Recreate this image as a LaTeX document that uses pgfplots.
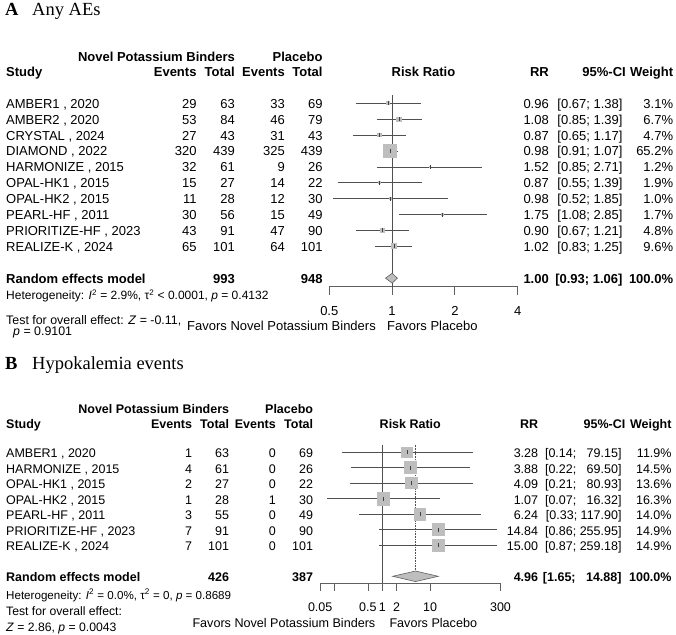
\documentclass[border=0pt]{standalone}
\usepackage{fontspec}
\setmainfont{Liberation Sans}
\newfontfamily\serifB{Liberation Serif}
\usepackage{pgfplots}
\pgfplotsset{compat=1.18}
\definecolor{boxg}{HTML}{BEBEBE}
\definecolor{lineg}{HTML}{505050}
\definecolor{axg}{HTML}{606060}
\newcommand{\fA}{\fontsize{13}{15}\selectfont}
\newcommand{\fB}{\fontsize{12.5}{14}\selectfont}
\newcommand{\trow}[9]{%
 \node[anchor=base west,inner sep=0pt,font=\rf] at (6pt,-#1pt) {#2};
 \node[anchor=base east,inner sep=0pt,font=\rf] at (\cE pt,-#1pt) {#3};
 \node[anchor=base east,inner sep=0pt,font=\rf] at (\cT pt,-#1pt) {#4};
 \node[anchor=base east,inner sep=0pt,font=\rf] at (\cPE pt,-#1pt) {#5};
 \node[anchor=base east,inner sep=0pt,font=\rf] at (\cPT pt,-#1pt) {#6};
 \node[anchor=base east,inner sep=0pt,font=\rf] at (\cRR pt,-#1pt) {#7};
 \node[anchor=base east,inner sep=0pt,font=\rf] at (\cCI pt,-#1pt) {#8};
 \node[anchor=base east,inner sep=0pt,font=\rf] at (\cW pt,-#1pt) {#9};
}
\newcommand{\hdr}[2]{%
 \node[anchor=base east,inner sep=0pt,font=\rf\bfseries] at (\cT pt,-#1pt) {Novel Potassium Binders};
 \node[anchor=base east,inner sep=0pt,font=\rf\bfseries] at (\cPT pt,-#1pt) {Placebo};
 \node[anchor=base west,inner sep=0pt,font=\rf\bfseries] at (6pt,-#2pt) {Study};
 \node[anchor=base east,inner sep=0pt,font=\rf\bfseries] at (\cE pt,-#2pt) {Events};
 \node[anchor=base east,inner sep=0pt,font=\rf\bfseries] at (\cT pt,-#2pt) {Total};
 \node[anchor=base east,inner sep=0pt,font=\rf\bfseries] at (\cPE pt,-#2pt) {Events};
 \node[anchor=base east,inner sep=0pt,font=\rf\bfseries] at (\cPT pt,-#2pt) {Total};
 \node[anchor=base,inner sep=0pt,font=\rf\bfseries] at (\cRRT pt,-#2pt) {Risk Ratio};
 \node[anchor=base east,inner sep=0pt,font=\rf\bfseries] at (\cRR pt,-#2pt) {RR};
 \node[anchor=base east,inner sep=0pt,font=\rf\bfseries] at (\cCIH pt,-#2pt) {95\%-CI};
 \node[anchor=base east,inner sep=0pt,font=\rf\bfseries] at (\cW pt,-#2pt) {Weight};
}
\begin{document}
\begin{tikzpicture}
\path[use as bounding box] (0pt,0pt) rectangle (676pt,-634pt);

% ================= Panel A =================
\node[anchor=base west,inner sep=0pt,font=\fontsize{18.5}{20}\selectfont\serifB\bfseries] at (5pt,-16pt) {A};
\node[anchor=base west,inner sep=0pt,font=\fontsize{18.5}{20}\selectfont\serifB] at (32pt,-16pt) {Any AEs};
\let\rf\fA
\def\cE{196.7}\def\cT{235}\def\cPE{285}\def\cPT{322.7}\def\cRR{549}\def\cCI{622.7}\def\cCIH{626}\def\cW{673.3}\def\cRRT{423.5}
\hdr{61.7}{76.7}
\trow{108.2}{AMBER1 , 2020}{29}{63}{33}{69}{0.96}{[0.67; 1.38]}{3.1\%}
\trow{124.1}{AMBER2 , 2020}{53}{84}{46}{79}{1.08}{[0.85; 1.39]}{6.7\%}
\trow{140.0}{CRYSTAL , 2024}{27}{43}{31}{43}{0.87}{[0.65; 1.17]}{4.7\%}
\trow{155.9}{DIAMOND , 2022}{320}{439}{325}{439}{0.98}{[0.91; 1.07]}{65.2\%}
\trow{171.8}{HARMONIZE , 2015}{32}{61}{9}{26}{1.52}{[0.85; 2.71]}{1.2\%}
\trow{187.7}{OPAL-HK1 , 2015}{15}{27}{14}{22}{0.87}{[0.55; 1.39]}{1.9\%}
\trow{203.6}{OPAL-HK2 , 2015}{11}{28}{12}{30}{0.98}{[0.52; 1.85]}{1.0\%}
\trow{219.5}{PEARL-HF , 2011}{30}{56}{15}{49}{1.75}{[1.08; 2.85]}{1.7\%}
\trow{235.4}{PRIORITIZE-HF , 2023}{43}{91}{47}{90}{0.90}{[0.67; 1.21]}{4.8\%}
\trow{251.3}{REALIZE-K , 2024}{65}{101}{64}{101}{1.02}{[0.83; 1.25]}{9.6\%}
\trow{283.1}{\bfseries Random effects model}{}{\bfseries 993}{}{\bfseries 948}{\bfseries 1.00}{\bfseries [0.93; 1.06]}{\bfseries 100.0\%}
\node[anchor=base west,inner sep=0pt,font=\fontsize{12}{14}\selectfont] at (6pt,-299.6pt) {Heterogeneity: \textit{I}\textsuperscript{2} = 2.9\%, τ\textsuperscript{2} < 0.0001, \textit{p} = 0.4132};
\node[anchor=base west,inner sep=0pt,font=\fontsize{12.4}{14}\selectfont] at (6pt,-324.1pt) {Test for overall effect: \textit{Z} = -0.11,};
\node[anchor=base west,inner sep=0pt,font=\fontsize{12.4}{14}\selectfont] at (13pt,-335.7pt) {\textit{p} = 0.9101};
\node[anchor=base east,inner sep=0pt,font=\fA] at (376pt,-330pt) {Favors Novel Potassium Binders};
\node[anchor=base west,inner sep=0pt,font=\fA] at (387pt,-330pt) {Favors Placebo};

\begin{axis}[at={(329.3pt,-286.7pt)}, anchor=south west,
  scale only axis, width=188.4pt, height=191.7pt,
  xmode=log, log basis x=2, clip=false,
  xmin=0.5, xmax=4, ymin=-12.535, ymax=-0.478,
  axis x line*=bottom, axis y line=none,
  x axis line style={axg,line width=0.8pt,-},
  tick align=outside, major tick length=8pt,
  tick style={axg,line width=0.8pt},
  xtick={0.5,1,2,4}, xticklabels={0.5,1,2,4},
  xticklabel style={font=\fA,anchor=base,yshift=-21pt}]
\addplot[lineg,line width=0.8pt] coordinates {(1,-0.478) (1,-12.535)};
\addplot[scatter, only marks, mark=square*,
  mark options={draw=boxg,fill=boxg,line width=0pt},
  scatter/use mapped color={draw=boxg,fill=boxg},
  visualization depends on={\thisrow{s}\as\msz},
  scatter/@pre marker code/.append style={/tikz/mark size=\msz}]
  table[x=x,y=y] {
x y s
0.96 -1 1.42
1.08 -2 2.08
0.87 -3 1.75
0.98 -4 6.5
1.52 -5 0.88
0.87 -6 1.11
0.98 -7 0.80
1.75 -8 1.05
0.90 -9 1.76
1.02 -10 2.49
};
\addplot[lineg,line width=0.8pt] coordinates {(0.67,-1) (1.38,-1)};
\addplot[lineg,line width=0.8pt] coordinates {(0.85,-2) (1.39,-2)};
\addplot[lineg,line width=0.8pt] coordinates {(0.65,-3) (1.17,-3)};
\addplot[lineg,line width=0.8pt] coordinates {(0.91,-4) (1.07,-4)};
\addplot[lineg,line width=0.8pt] coordinates {(0.85,-5) (2.71,-5)};
\addplot[lineg,line width=0.8pt] coordinates {(0.55,-6) (1.39,-6)};
\addplot[lineg,line width=0.8pt] coordinates {(0.52,-7) (1.85,-7)};
\addplot[lineg,line width=0.8pt] coordinates {(1.08,-8) (2.85,-8)};
\addplot[lineg,line width=0.8pt] coordinates {(0.67,-9) (1.21,-9)};
\addplot[lineg,line width=0.8pt] coordinates {(0.83,-10) (1.25,-10)};
\addplot[only marks, mark=|, mark size=2pt, black!75, line width=0.8pt] table[x=x,y=y] {
x y
0.96 -1
1.08 -2
0.87 -3
0.98 -4
1.52 -5
0.87 -6
0.98 -7
1.75 -8
0.90 -9
1.02 -10
};
\addplot[fill=boxg, draw=axg, line width=0.6pt] coordinates {(0.93,-12) (1.00,-11.69) (1.06,-12) (1.00,-12.31)} -- cycle;
\end{axis}

% ================= Panel B =================
\node[anchor=base west,inner sep=0pt,font=\fontsize{18.5}{20}\selectfont\serifB\bfseries] at (5pt,-369pt) {B};
\node[anchor=base west,inner sep=0pt,font=\fontsize{18.5}{20}\selectfont\serifB] at (32pt,-369pt) {Hypokalemia events};
\let\rf\fB
\def\cE{192.3}\def\cT{229.3}\def\cPE{276}\def\cPT{313.3}\def\cRR{538.3}\def\cCI{621.7}\def\cCIH{625.5}\def\cW{671.7}\def\cRRT{410.3}
\hdr{413}{428}
\trow{457.5}{AMBER1 , 2020}{1}{63}{0}{69}{3.28}{[0.14; \phantom{0}79.15]}{11.9\%}
\trow{473.0}{HARMONIZE , 2015}{4}{61}{0}{26}{3.88}{[0.22; \phantom{0}69.50]}{14.5\%}
\trow{488.5}{OPAL-HK1 , 2015}{2}{27}{0}{22}{4.09}{[0.21; \phantom{0}80.93]}{13.6\%}
\trow{504.0}{OPAL-HK2 , 2015}{1}{28}{1}{30}{1.07}{[0.07; \phantom{0}16.32]}{16.3\%}
\trow{519.5}{PEARL-HF , 2011}{3}{55}{0}{49}{6.24}{[0.33; 117.90]}{14.0\%}
\trow{535.0}{PRIORITIZE-HF , 2023}{7}{91}{0}{90}{14.84}{[0.86; 255.95]}{14.9\%}
\trow{550.5}{REALIZE-K , 2024}{7}{101}{0}{101}{15.00}{[0.87; 259.18]}{14.9\%}
\trow{581.5}{\bfseries Random effects model}{}{\bfseries 426}{}{\bfseries 387}{\bfseries 4.96}{\bfseries [1.65; \phantom{0}14.88]}{\bfseries 100.0\%}
\node[anchor=base west,inner sep=0pt,font=\fontsize{11.6}{13}\selectfont] at (6pt,-599pt) {Heterogeneity: \textit{I}\textsuperscript{2} = 0.0\%, τ\textsuperscript{2} = 0, \textit{p} = 0.8689};
\node[anchor=base west,inner sep=0pt,font=\fontsize{12.2}{14}\selectfont] at (6pt,-615.5pt) {Test for overall effect:};
\node[anchor=base west,inner sep=0pt,font=\fontsize{12.2}{14}\selectfont] at (6pt,-631.3pt) {\textit{Z} = 2.86, \textit{p} = 0.0043};
\node[anchor=base east,inner sep=0pt,font=\fontsize{12.6}{14}\selectfont] at (375.5pt,-627.8pt) {Favors Novel Potassium Binders};
\node[anchor=base west,inner sep=0pt,font=\fontsize{12.6}{14}\selectfont] at (389.3pt,-627.8pt) {Favors Placebo};

\begin{axis}[at={(320.2pt,-583.3pt)}, anchor=south west,
  scale only axis, width=180.3pt, height=138.8pt,
  xmode=log, log basis x=10, clip=false,
  xmin=0.05, xmax=300, ymin=-9.452, ymax=-0.497,
  axis x line*=bottom, axis y line=none,
  x axis line style={axg,line width=0.8pt,-},
  tick align=outside, major tick length=7.5pt,
  tick style={axg,line width=0.8pt},
  xtick={0.05,0.1,0.5,1,2,10,300}, xticklabels={0.05,,0.5,1,2,10,300},
  xticklabel style={font=\fB,anchor=base,yshift=-21pt}]
\addplot[lineg,line width=0.8pt] coordinates {(1,-0.497) (1,-9.452)};
\addplot[lineg,line width=0.6pt,densely dotted] coordinates {(4.96,-0.497) (4.96,-8.66)};
\addplot[scatter, only marks, mark=square*,
  mark options={draw=boxg,fill=boxg,line width=0pt},
  scatter/use mapped color={draw=boxg,fill=boxg},
  visualization depends on={\thisrow{s}\as\msz},
  scatter/@pre marker code/.append style={/tikz/mark size=\msz}]
  table[x=x,y=y] {
x y s
3.28 -1 5.30
3.88 -2 5.85
4.09 -3 5.66
1.07 -4 6.20
6.24 -5 5.75
14.84 -6 5.93
15.00 -7 5.93
};
\addplot[lineg,line width=0.8pt] coordinates {(0.14,-1) (79.15,-1)};
\addplot[lineg,line width=0.8pt] coordinates {(0.22,-2) (69.50,-2)};
\addplot[lineg,line width=0.8pt] coordinates {(0.21,-3) (80.93,-3)};
\addplot[lineg,line width=0.8pt] coordinates {(0.07,-4) (16.32,-4)};
\addplot[lineg,line width=0.8pt] coordinates {(0.33,-5) (117.90,-5)};
\addplot[lineg,line width=0.8pt] coordinates {(0.86,-6) (255.95,-6)};
\addplot[lineg,line width=0.8pt] coordinates {(0.87,-7) (259.18,-7)};
\addplot[only marks, mark=|, mark size=2pt, black!75, line width=0.8pt] table[x=x,y=y] {
x y
3.28 -1
3.88 -2
4.09 -3
1.07 -4
6.24 -5
14.84 -6
15.00 -7
};
\addplot[fill=boxg, draw=axg, line width=0.6pt] coordinates {(1.65,-9) (4.96,-8.66) (14.88,-9) (4.96,-9.34)} -- cycle;
\end{axis}
\end{tikzpicture}
\end{document}
